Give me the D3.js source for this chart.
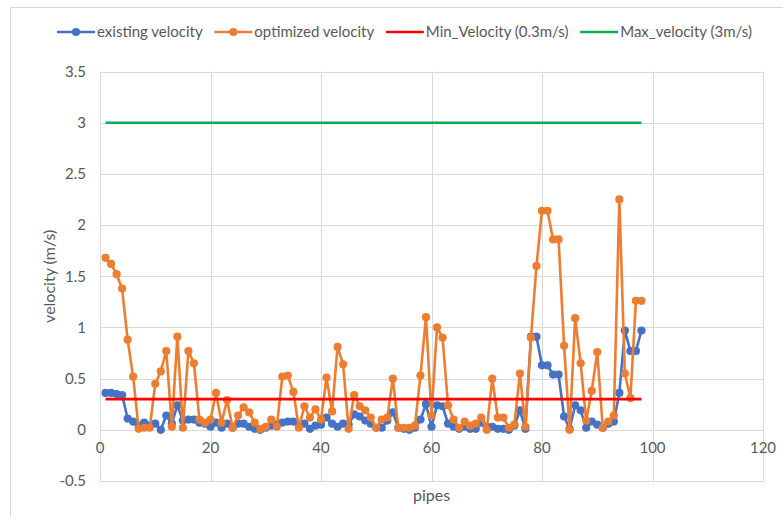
<!DOCTYPE html>
<html>
<head>
<meta charset="utf-8">
<script src="https://cdn.jsdelivr.net/npm/d3@7"></script>
<style>
  html, body { margin: 0; padding: 0; background: #fff; }
  svg { display: block; }
  text { font-family: Lato, "Open Sans", sans-serif; fill: #595959; }
</style>
</head>
<body>
<svg id="chart" width="783" height="517"></svg>
<script>
// ---------- data ----------
const existingVelocity = [
  0.36, 0.36, 0.35, 0.34, 0.11, 0.08, 0.04, 0.07, 0.04, 0.06,
  0.00, 0.14, 0.06, 0.24, 0.09, 0.10, 0.10, 0.07, 0.06, 0.03,
  0.07, 0.02, 0.06, 0.02, 0.06, 0.06, 0.03, 0.01, 0.00, 0.02,
  0.04, 0.05, 0.07, 0.08, 0.08, 0.04, 0.06, 0.01, 0.04, 0.05,
  0.12, 0.06, 0.03, 0.06, 0.05, 0.15, 0.13, 0.09, 0.06, 0.02,
  0.02, 0.09, 0.17, 0.02, 0.01, 0.00, 0.02, 0.10, 0.25, 0.03,
  0.24, 0.23, 0.06, 0.03, 0.01, 0.03, 0.01, 0.01, 0.07, 0.03,
  0.03, 0.01, 0.01, 0.00, 0.04, 0.19, 0.01, 0.91, 0.91, 0.63,
  0.63, 0.54, 0.54, 0.13, 0.01, 0.24, 0.19, 0.02, 0.08, 0.05,
  0.02, 0.06, 0.08, 0.36, 0.97, 0.77, 0.77, 0.97
];
const optimizedVelocity = [
  1.68, 1.62, 1.52, 1.38, 0.88, 0.52, 0.01, 0.02, 0.02, 0.45,
  0.57, 0.77, 0.03, 0.91, 0.02, 0.77, 0.65, 0.10, 0.07, 0.10,
  0.36, 0.07, 0.29, 0.02, 0.14, 0.22, 0.17, 0.07, 0.01, 0.03,
  0.10, 0.03, 0.52, 0.53, 0.37, 0.02, 0.23, 0.12, 0.20, 0.10,
  0.51, 0.18, 0.81, 0.64, 0.01, 0.34, 0.23, 0.19, 0.12, 0.02,
  0.10, 0.12, 0.50, 0.02, 0.02, 0.02, 0.04, 0.53, 1.10, 0.14,
  1.00, 0.90, 0.24, 0.10, 0.02, 0.08, 0.04, 0.06, 0.12, 0.00,
  0.50, 0.12, 0.12, 0.02, 0.05, 0.55, 0.03, 0.90, 1.60, 2.14,
  2.14, 1.86, 1.86, 0.82, 0.00, 1.09, 0.65, 0.09, 0.38, 0.76,
  0.02, 0.08, 0.14, 2.25, 0.55, 0.31, 1.26, 1.26
];
const pipes = existingVelocity.map((_, i) => i + 1);
const minVelocity = 0.3;
const maxVelocity = 3;
const xTicks = [0, 20, 40, 60, 80, 100, 120];
const yTicks = [-0.5, 0, 0.5, 1, 1.5, 2, 2.5, 3, 3.5];
const seriesNames = ["existing velocity", "optimized velocity", "Min_Velocity (0.3m/s)", "Max_velocity (3m/s)"];

// ---------- layout ----------
const svg = d3.select("#chart");
const L = 100, R = 763, T = 71.5, B = 481;
const x = d3.scaleLinear().domain([0, 120]).range([L, R]);
const y = d3.scaleLinear().domain([-0.5, 3.5]).range([B, T]);

const colors = ["#4472C4", "#ED7D31", "#FF0000", "#00B050"];
const SW = 2.6, MR = 4.1;

// outer chart border (top + left)
svg.append("path").attr("d", "M10.5,517 V7.5 H783")
  .attr("fill", "none").attr("stroke", "#d9d9d9").attr("stroke-width", 1);

// grid
const grid = svg.append("g");
grid.selectAll(".gy").data(yTicks).join("line")
  .attr("x1", L).attr("x2", R)
  .attr("y1", d => Math.round(y(d)) + 0.5).attr("y2", d => Math.round(y(d)) + 0.5)
  .attr("stroke", "#d9d9d9");
grid.selectAll(".gx").data(xTicks).join("line")
  .attr("y1", T).attr("y2", B)
  .attr("x1", d => Math.round(x(d)) + 0.5).attr("x2", d => Math.round(x(d)) + 0.5)
  .attr("stroke", "#d9d9d9");
svg.append("rect").attr("x", L + 0.5).attr("y", Math.round(T) + 0.5)
  .attr("width", R - L).attr("height", B - Math.round(T))
  .attr("fill", "none").attr("stroke", "#d9d9d9");

// tick labels
svg.append("g").selectAll("text").data(yTicks).join("text")
  .attr("x", 86).attr("y", d => y(d)).attr("dy", "0.35em")
  .attr("text-anchor", "end").attr("font-size", 15)
  .text(d => d);
svg.append("g").selectAll("text").data(xTicks).join("text")
  .attr("x", d => x(d)).attr("y", y(0) + 18).attr("dy", "0.35em")
  .attr("text-anchor", "middle").attr("font-size", 15)
  .text(d => d);

// axis titles
svg.append("text").attr("transform", `translate(49,${(T + B) / 2}) rotate(-90)`)
  .attr("text-anchor", "middle").attr("dy", "0.35em").attr("font-size", 16)
  .text("velocity (m/s)");
svg.append("text").attr("x", (L + R) / 2).attr("y", 495).attr("dy", "0.35em")
  .attr("text-anchor", "middle").attr("font-size", 16).text("pipes");

// series
const line = d3.line().x(d => x(d[0])).y(d => y(d[1]));
function drawSeries(vals, color) {
  const pts = pipes.map((p, i) => [p, vals[i]]);
  const g = svg.append("g");
  g.append("path").datum(pts).attr("d", line)
    .attr("fill", "none").attr("stroke", color).attr("stroke-width", SW)
    .attr("stroke-linejoin", "round");
  g.selectAll("circle").data(pts).join("circle")
    .attr("cx", d => x(d[0])).attr("cy", d => y(d[1])).attr("r", MR)
    .attr("fill", color);
}
drawSeries(existingVelocity, colors[0]);
drawSeries(optimizedVelocity, colors[1]);

// limits
[minVelocity, maxVelocity].forEach((v, i) => {
  svg.append("line")
    .attr("x1", x(pipes[0])).attr("x2", x(pipes[pipes.length - 1]))
    .attr("y1", y(v)).attr("y2", y(v))
    .attr("stroke", colors[i + 2]).attr("stroke-width", SW);
});

// legend
const leg = svg.append("g");
const legY = 32;
const lineW = 38, gapText = 2, startX = 57, endX = 752;
const items = seriesNames.map((name, i) => {
  const t = leg.append("text").attr("y", legY).attr("dy", "0.35em")
    .attr("font-size", 15).text(name);
  return { t, w: t.node().getComputedTextLength(), i };
});
const total = items.reduce((s, it) => s + lineW + gapText + it.w, 0);
const gap = (endX - startX - total) / (items.length - 1);
let cx = startX;
items.forEach(it => {
  leg.append("line").attr("x1", cx).attr("x2", cx + lineW)
    .attr("y1", legY).attr("y2", legY)
    .attr("stroke", colors[it.i]).attr("stroke-width", SW);
  if (it.i < 2) {
    leg.append("circle").attr("cx", cx + lineW / 2).attr("cy", legY).attr("r", MR)
      .attr("fill", colors[it.i]);
  }
  it.t.attr("x", cx + lineW + gapText);
  cx += lineW + gapText + it.w + gap;
});
</script>
</body>
</html>
